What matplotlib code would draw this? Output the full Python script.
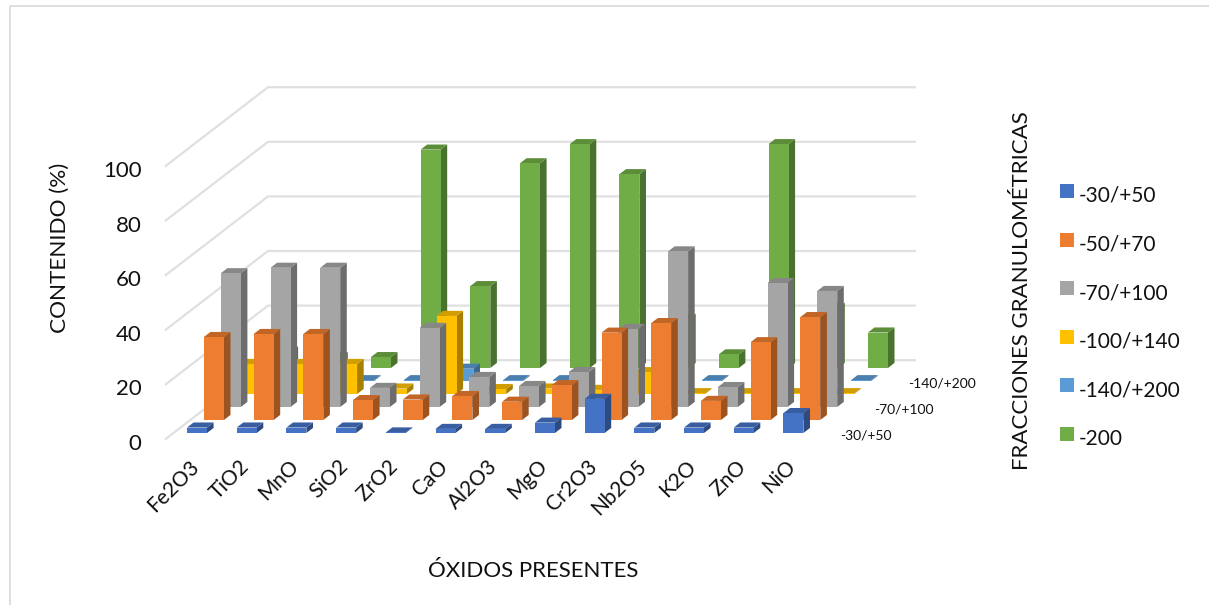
import matplotlib
matplotlib.use("Agg")
import matplotlib.pyplot as plt
from matplotlib.patches import Polygon, Rectangle
from matplotlib.colors import to_rgb

plt.rcParams['font.family'] = ['Lato', 'DejaVu Sans']

oxides = ["Fe2O3", "TiO2", "MnO", "SiO2", "ZrO2", "CaO", "Al2O3", "MgO", "Cr2O3", "Nb2O5", "K2O", "ZnO", "NiO"]
fractions = ["-30/+50", "-50/+70", "-70/+100", "-100/+140", "-140/+200", "-200"]
colors = ["#4472C4", "#ED7D31", "#A5A5A5", "#FFC000", "#5B9BD5", "#70AD47"]
value_ticks = [0, 20, 40, 60, 80, 100]

f_30_50 = [2, 2, 2, 2, 0.2, 1.5, 1.5, 3.8, 12.5, 2, 2, 2, 7.3]
f_50_70 = [30.4, 31.5, 31.5, 7.3, 7.5, 8.8, 6.7, 12.8, 32, 35.5, 7, 28.5, 37.7]
f_70_100 = [49, 51, 51, 7, 29, 11, 7.7, 12.8, 28.6, 57, 7.3, 45.4, 42.5]
f_100_140 = [11, 11, 11, 2, 28.6, 1.8, 2, 1.5, 8, 0.3, 0.3, 0.3, 0.3]
f_140_200 = [0.3, 0.3, 0.3, 0.3, 4.5, 0.3, 0.3, 0.3, 0.3, 0.3, 0.3, 0.3, 0.3]
f_200 = [6, 4, 4, 80, 30, 75, 82, 71, 18, 5, 82, 22, 13]
series = [f_30_50, f_50_70, f_70_100, f_100_140, f_140_200, f_200]

W, H = 1209, 605
CAT_PX = 49.7
VAL_PX = 2.73
X0, Y0 = 197, 433
# one row further back moves this far, in category and value units
SHIFT_X = 16.9 / CAT_PX
SHIFT_Y = 13.0 / VAL_PX
HALF = 10 / CAT_PX
BAR_DEPTH = 0.39
WALL = 5.6
FRONT = -0.45
LEFT, RIGHT = -0.475, 12.54
TEXT = "#111111"

fig = plt.figure(figsize=(W / 100, H / 100), dpi=100)
ax = fig.add_axes([0, 0, 1, 1])
ax.set_xlim(-X0 / CAT_PX, (W - X0) / CAT_PX)
ax.set_ylim((Y0 - H) / VAL_PX, Y0 / VAL_PX)
ax.axis("off")


def proj(c, v, d):
    return (c + d * SHIFT_X, v + d * SHIFT_Y)


def shade(color, k):
    return tuple(x * k for x in to_rgb(color))


def bar(cat, row, val, color):
    l, r = cat - HALF, cat + HALF
    d0, d1 = row, row + BAR_DEPTH
    side = [proj(r, 0, d0), proj(r, 0, d1), proj(r, val, d1), proj(r, val, d0)]
    top = [proj(l, val, d0), proj(r, val, d0), proj(r, val, d1), proj(l, val, d1)]
    front = [proj(l, 0, d0), proj(r, 0, d0), proj(r, val, d0), proj(l, val, d0)]
    ax.add_patch(Polygon(side, fc=shade(color, 0.66), ec="none", zorder=3))
    ax.add_patch(Polygon(top, fc=shade(color, 0.82), ec="none", zorder=3))
    ax.add_patch(Polygon(front, fc=color, ec="none", zorder=3))


# back wall and left wall gridlines
for t in value_ticks:
    xs, ys = zip(proj(LEFT, t, FRONT), proj(LEFT, t, WALL), proj(RIGHT, t, WALL))
    ax.plot(xs, ys, color="#E0E0E0", lw=1.6, zorder=1, solid_joinstyle="miter")
    ax.text(LEFT - 0.64, t - 4, str(t), ha="right", va="center", fontsize=16, color=TEXT)

# rows go back to front so nearer bars cover the ones behind
for row in range(len(series) - 1, -1, -1):
    for i, val in enumerate(series[row]):
        bar(i, row, val, colors[row])

for i, name in enumerate(oxides):
    ax.text(i - 0.16, -8.5, name, rotation=45, rotation_mode="anchor", ha="right", va="top",
            fontsize=15, color=TEXT)

for row in [0, 2, 4]:
    x, y = proj(12.94, -1, row)
    ax.text(x, y, fractions[row], ha="left", va="center", fontsize=10, color=TEXT)


def fx(px):
    return px / W


def fy(py):
    return 1 - py / H


fig.text(fx(60), fy(248), "CONTENIDO (%)", rotation=90, ha="center", va="center", fontsize=16.2, color=TEXT)
fig.text(fx(533), fy(571), "ÓXIDOS PRESENTES", ha="center", va="center", fontsize=16, color=TEXT)
fig.text(fx(1022), fy(291), "FRACCIONES GRANULOMÉTRICAS", rotation=90, ha="center", va="center", fontsize=16,
         color=TEXT)

# legend built by hand: square swatches with wide spacing
for k, (name, color) in enumerate(zip(fractions, colors)):
    cy = 191 + 48.6 * k
    fig.add_artist(Rectangle((fx(1060), fy(cy + 7)), 14 / W, 14 / H, transform=fig.transFigure, fc=color, ec="none"))
    fig.text(fx(1079), fy(cy + 5), name, ha="left", va="center", fontsize=15, color=TEXT)

# outer frame of the chart area
fig.add_artist(plt.Line2D([fx(10), fx(10), fx(1209)], [fy(605), fy(6), fy(6)], transform=fig.transFigure,
                          color="#D9D9D9", lw=1.2))

fig.savefig("out.png", dpi=100, facecolor="white")
